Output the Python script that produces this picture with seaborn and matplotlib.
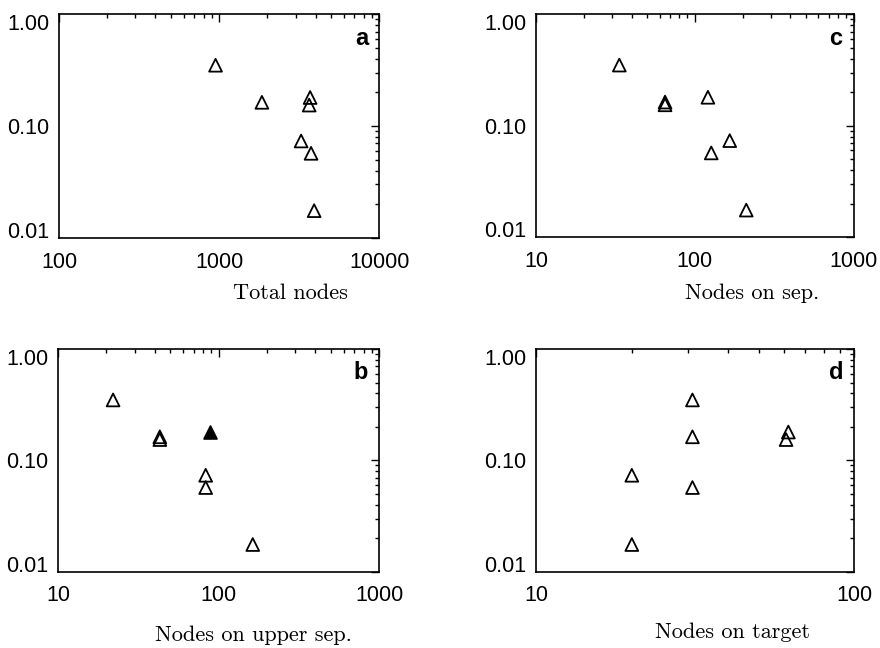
import numpy as np
import pandas as pd
import matplotlib
matplotlib.use("Agg")
import matplotlib.pyplot as plt
import seaborn as sns
from matplotlib.ticker import LogLocator, FixedLocator, FixedFormatter, NullFormatter

# values (y is shared by all four panels)
ratio = [0.35, 0.18, 0.163, 0.154, 0.0735, 0.057, 0.0175]
total_nodes = [950, 3700, 1850, 3650, 3250, 3750, 3920]
nodes_sep = [33.5, 121, 65, 65, 166, 127, 211]
nodes_upper_sep = [22, 88, 43, 43, 83, 83, 163]
nodes_target = [31, 62, 31, 61, 20, 31, 20]
filled_upper = [False, True, False, False, False, False, False]

sns.set_style("white")
plt.rcParams["font.family"] = ["Liberation Sans", "DejaVu Sans"]
plt.rcParams["text.color"] = "black"

fig = plt.figure(figsize=(8.8, 6.48), dpi=100)

panels = [
    # letter, x data, xlabel, xlim, xticks, rect, label pos (fig coords)
    ("a", total_nodes, "Total nodes", (100, 10000), [100, 1000, 10000],
     [0.067, 0.633, 0.364, 0.345], (0.3295, 0.548)),
    ("c", nodes_sep, "Nodes on sep.", (10, 1000), [10, 100, 1000],
     [0.609, 0.634, 0.361, 0.344], (0.8545, 0.548)),
    ("b", nodes_upper_sep, "Nodes on upper sep.", (10, 1000), [10, 100, 1000],
     [0.066, 0.118, 0.365, 0.343], (0.2875, 0.019)),
    ("d", nodes_target, "Nodes on target", (10, 100), [10, 100],
     [0.609, 0.118, 0.362, 0.343], (0.832, 0.025)),
]

for letter, xs, xlabel, xlim, xticks, rect, lpos in panels:
    ax = fig.add_axes(rect)
    df = pd.DataFrame({"x": xs, "y": ratio, "filled": filled_upper})
    if letter == "b":
        open_df = df[~df["filled"]]
        full_df = df[df["filled"]]
    else:
        open_df = df
        full_df = df.iloc[0:0]
    sns.scatterplot(data=open_df, x="x", y="y", ax=ax, marker="^", s=85,
                    facecolor="none", edgecolor="black", linewidth=1.3)
    if len(full_df):
        sns.scatterplot(data=full_df, x="x", y="y", ax=ax, marker="^", s=85,
                        color="black", edgecolor="black", linewidth=1.3)
    ax.set_xscale("log")
    ax.set_yscale("log")
    ax.set_xlim(*xlim)
    ax.set_ylim(0.01, 1.0)

    ax.xaxis.set_major_locator(FixedLocator(xticks))
    ax.xaxis.set_major_formatter(FixedFormatter([str(t) for t in xticks]))
    ax.xaxis.set_minor_locator(LogLocator(base=10, subs=np.arange(2, 10)))
    ax.xaxis.set_minor_formatter(NullFormatter())
    ax.yaxis.set_major_locator(FixedLocator([0.01, 0.1, 1.0]))
    ax.yaxis.set_major_formatter(FixedFormatter(["0.01", "0.10", "1.00"]))
    ax.yaxis.set_minor_locator(LogLocator(base=10, subs=np.arange(2, 10)))
    ax.yaxis.set_minor_formatter(NullFormatter())

    ax.tick_params(which="both", direction="in", top=True, right=True,
                   width=1.0, colors="black")
    ax.tick_params(which="major", length=6, labelsize=15.5)
    ax.tick_params(axis="x", which="major", pad=10)
    ax.tick_params(axis="y", which="major", pad=7)
    ax.tick_params(which="minor", length=3)
    for sp in ax.spines.values():
        sp.set_linewidth(1.2)
        sp.set_color("black")

    # IDL style: end labels kept inside the axis height
    ylabels = ax.get_yticklabels()
    ylabels[0].set_va("baseline")
    ylabels[-1].set_va("top")

    ax.set_xlabel("")
    ax.set_ylabel("")
    ax.text(0.965, 0.945, letter, transform=ax.transAxes, ha="right", va="top",
            fontsize=17, fontweight="bold", color="black")
    fig.text(lpos[0], lpos[1], xlabel, ha="center", va="center",
             fontsize=16, family=["cmr10", "DejaVu Serif"], color="black")

fig.savefig("out.png", dpi=100)
